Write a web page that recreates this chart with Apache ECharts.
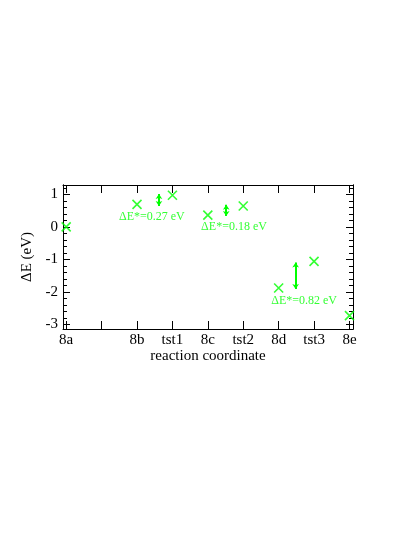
<!DOCTYPE html>
<html>
<head>
<meta charset="utf-8">
<script src="https://cdn.jsdelivr.net/npm/echarts@6/dist/echarts.min.js"></script>
<style>
html, body { margin: 0; padding: 0; background: #fff; }
#chart { width: 415px; height: 537px; }
</style>
</head>
<body>
<div id="chart"></div>
<script>
// reaction path states
var stateNames = ['8a', '', '8b', 'tst1', '8c', 'tst2', '8d', 'tst3', '8e'];
var stateTicks = [0, 1, 2, 3, 4, 5, 6, 7, 8];
var statePos = [0, 2, 3, 4, 5, 6, 7, 8];
var energies = [0, 0.69, 0.97, 0.36, 0.64, -1.88, -1.06, -2.73];

// y ticks
var yMajor = [-3, -2, -1, 0, 1];
var yMinor = [-2.8, -2.6, -2.4, -2.2, -1.8, -1.6, -1.4, -1.2, -0.8, -0.6, -0.4, -0.2,
              0.2, 0.4, 0.6, 0.8, 1.2];

// barrier arrows + notes
var arrowX = [2.62, 4.52, 6.48];
var arrowLow = [0.64, 0.33, -1.91];
var arrowHigh = [1.01, 0.68, -1.10];
var noteX = [2.42, 4.74, 6.72];
var noteY = [0.31, -0.01, -2.26];
var noteText = ['ΔE*=0.27 eV', 'ΔE*=0.18 eV', 'ΔE*=0.82 eV'];

var green = '#00ff00';
var font = 'Liberation Serif';

(function() {
    var myChart = echarts.init(document.getElementById('chart'));

    var pts = [];
    for (var i = 0; i < statePos.length; i++) pts.push([statePos[i], energies[i]]);

    var arrows = [];
    for (var j = 0; j < arrowX.length; j++) {
        arrows.push([{ coord: [arrowX[j], arrowLow[j]] }, { coord: [arrowX[j], arrowHigh[j]] }]);
    }

    var notes = [];
    for (var k = 0; k < noteX.length; k++) notes.push([noteX[k], noteY[k]]);

    var xMin = -0.09, xMax = 8.1, yMin = -3.14, yMax = 1.285;

    function xAxisBase(pos) {
        return {
            type: 'value', position: pos, min: xMin, max: xMax,
            splitLine: { show: false },
            axisLine: { show: true, onZero: false, lineStyle: { color: '#000', width: 1 } },
            axisTick: { show: true, inside: true, length: 8, customValues: stateTicks, lineStyle: { color: '#000' } },
            axisLabel: { show: false }
        };
    }
    function yAxisBase(pos, vals, len) {
        return {
            type: 'value', position: pos, min: yMin, max: yMax,
            splitLine: { show: false },
            axisLine: { show: true, onZero: false, lineStyle: { color: '#000', width: 1 } },
            axisTick: { show: true, inside: true, length: len, customValues: vals, lineStyle: { color: '#000' } },
            axisLabel: { show: false }
        };
    }

    var xBottom = xAxisBase('bottom');
    xBottom.axisLabel = {
        show: true, customValues: stateTicks, margin: 4,
        fontFamily: font, fontSize: 15, color: '#000',
        formatter: function(v) { return stateNames[Math.round(v)]; }
    };
    xBottom.name = 'reaction coordinate';
    xBottom.nameLocation = 'middle';
    xBottom.nameGap = 20;
    xBottom.nameTextStyle = { fontFamily: font, fontSize: 15, color: '#000' };

    var yLeft = yAxisBase('left', yMajor, 7);
    yLeft.axisLabel = {
        show: true, customValues: yMajor, margin: 5,
        fontFamily: font, fontSize: 15, color: '#000',
        formatter: function(v) { return String(v).replace('\u2212', '-'); }
    };
    yLeft.name = 'ΔE (eV)';
    yLeft.nameLocation = 'middle';
    yLeft.nameGap = 16;
    yLeft.nameTextStyle = { fontFamily: font, fontSize: 15, color: '#000' };

    option = {
        animation: false,
        backgroundColor: '#fff',
        grid: { left: 63, right: 62, top: 185, bottom: 208 },
        xAxis: [xBottom, xAxisBase('top')],
        yAxis: [
            yLeft,
            yAxisBase('left', yMinor, 4),
            yAxisBase('right', yMajor, 7),
            yAxisBase('right', yMinor, 4)
        ],
        series: [
            {
                name: 'states',
                type: 'scatter',
                data: pts,
                symbol: 'path://M0,0L10,10M10,0L0,10',
                symbolSize: 9,
                itemStyle: { color: 'rgba(0,0,0,0)', borderColor: green, borderWidth: 1.6 },
                emphasis: { disabled: true },
                silent: true,
                markLine: {
                    silent: true,
                    symbol: ['arrow', 'arrow'],
                    symbolSize: [5, 5],
                    label: { show: false },
                    lineStyle: { color: green, width: 2, type: 'solid' },
                    data: arrows
                }
            },
            {
                name: 'notes',
                type: 'scatter',
                data: notes,
                symbolSize: 1,
                itemStyle: { color: 'rgba(0,0,0,0)' },
                silent: true,
                label: {
                    show: true, position: 'inside',
                    fontFamily: font, fontSize: 12, color: green,
                    formatter: function(p) { return noteText[p.dataIndex]; }
                }
            }
        ]
    };

    myChart.setOption(option);
    window.addEventListener('resize', function() {
        myChart.resize();
    });
})();
</script>
</body>
</html>
